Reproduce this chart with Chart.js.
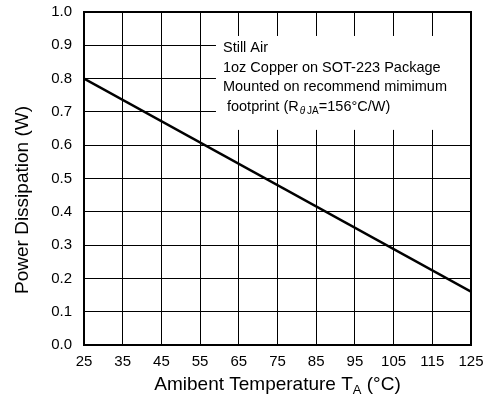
<!DOCTYPE html>
<html>
<head>
<meta charset="utf-8">
<script src="https://cdn.jsdelivr.net/npm/chart.js@4.4.1/dist/chart.umd.min.js"></script>
<style>
  html, body { margin: 0; padding: 0; background: #fff; }
  #wrap { width: 487px; height: 407px; }
</style>
</head>
<body>
<div id="wrap"><canvas id="canvas" width="487" height="407"></canvas></div>
<script>
// derating curve: power dissipation vs ambient temperature
const temps = [25, 125];
const power = [0.8, 0.16];
const xTicks = [25, 35, 45, 55, 65, 75, 85, 95, 105, 115, 125];
const yTicks = [0.0, 0.1, 0.2, 0.3, 0.4, 0.5, 0.6, 0.7, 0.8, 0.9, 1.0];
const noteLines = ['Still Air', '1oz Copper on SOT-223 Package', 'Mounted on recommend mimimum'];
const noteBox = {x0: 59.1, x1: 125, y0: 0.646, y1: 0.928};

const FONT = '"Liberation Sans", Arial, sans-serif';

const notePlugin = {
    id: 'note',
    beforeDatasetsDraw(chart) {
        const ctx = chart.ctx;
        const xs = chart.scales.x, ys = chart.scales.y;
        const l = xs.getPixelForValue(noteBox.x0), r = xs.getPixelForValue(noteBox.x1);
        const t = ys.getPixelForValue(noteBox.y1), b = ys.getPixelForValue(noteBox.y0);
        ctx.save();
        ctx.fillStyle = '#fff';
        ctx.fillRect(l, t, r - l, b - t);
        ctx.fillStyle = '#000';
        ctx.font = '14.5px ' + FONT;
        ctx.textBaseline = 'middle';
        const tx = l + 7;
        noteLines.forEach((s, i) => ctx.fillText(s, tx, t + 12 + i * 19.7));
        // last line with subscript
        let y4 = t + 12 + 3 * 19.7;
        let x = tx + 4;
        const part1 = 'footprint (R';
        ctx.fillText(part1, x, y4);
        x += ctx.measureText(part1).width + 1;
        ctx.font = 'italic 10px ' + FONT;
        ctx.fillText('\u03b8', x, y4 + 4);
        x += ctx.measureText('\u03b8').width + 2;
        ctx.font = '10px ' + FONT;
        ctx.fillText('JA', x, y4 + 4);
        x += ctx.measureText('JA').width;
        ctx.font = '14.5px ' + FONT;
        ctx.fillText('=156\u00b0C/W)', x, y4);
        ctx.restore();
    },
    afterDraw(chart) {
        const ctx = chart.ctx;
        const a = chart.chartArea;
        ctx.save();
        ctx.strokeStyle = '#000';
        ctx.lineWidth = 2;
        ctx.strokeRect(a.left, a.top, a.right - a.left, a.bottom - a.top);
        ctx.fillStyle = '#000';
        ctx.textBaseline = 'middle';
        // y axis title
        ctx.save();
        ctx.translate(23, 200);
        ctx.rotate(-Math.PI / 2);
        ctx.textAlign = 'center';
        ctx.font = '19px ' + FONT;
        ctx.fillText('Power Dissipation (W)', 0, 0);
        ctx.restore();
        // x axis title with subscript
        const p1 = 'Amibent Temperature T', p3 = ' (\u00b0C)';
        ctx.font = '19px ' + FONT;
        const w1 = ctx.measureText(p1).width, w3 = ctx.measureText(p3).width;
        ctx.font = '13px ' + FONT;
        const w2 = ctx.measureText('A').width;
        let x = (a.left + a.right) / 2 - (w1 + w2 + w3) / 2;
        const y = 385;
        ctx.font = '19px ' + FONT;
        ctx.fillText(p1, x, y);
        x += w1;
        ctx.font = '13px ' + FONT;
        ctx.fillText('A', x, y + 5);
        x += w2;
        ctx.font = '19px ' + FONT;
        ctx.fillText(p3, x, y);
        ctx.restore();
    }
};

const ctx = document.getElementById('canvas').getContext('2d');
const chart = new Chart(ctx, {
    type: 'line',
    data: {
        datasets: [{
            label: 'Power Dissipation',
            data: temps.map((t, i) => ({x: t, y: power[i]})),
            borderColor: '#000',
            borderWidth: 2.5,
            pointRadius: 0,
            fill: false,
            tension: 0
        }]
    },
    options: {
        responsive: false,
        animation: false,
        devicePixelRatio: 1,
        layout: {padding: {top: 12, right: 16, left: 0, bottom: 0}},
        plugins: {legend: {display: false}, tooltip: {enabled: false}},
        scales: {
            x: {
                type: 'linear',
                min: 25, max: 125,
                afterBuildTicks: s => { s.ticks = xTicks.map(v => ({value: v})); },
                afterFit: s => { s.height = 62; s.paddingLeft = 0; s.paddingRight = 0; },
                grid: {color: '#000', lineWidth: 1, drawTicks: false},
                border: {display: false},
                ticks: {color: '#000', font: {family: FONT, size: 15}, padding: 8, maxRotation: 0, autoSkip: false,
                        callback: v => String(v)}
            },
            y: {
                min: 0, max: 1,
                afterBuildTicks: s => { s.ticks = yTicks.map(v => ({value: v})); },
                afterFit: s => { s.width = 84; s.paddingTop = 0; s.paddingBottom = 0; },
                grid: {color: '#000', lineWidth: 1, drawTicks: false},
                border: {display: false},
                ticks: {color: '#000', font: {family: FONT, size: 15}, padding: 12,
                        callback: v => Number(v).toFixed(1)}
            }
        }
    },
    plugins: [notePlugin]
});
</script>
</body>
</html>
